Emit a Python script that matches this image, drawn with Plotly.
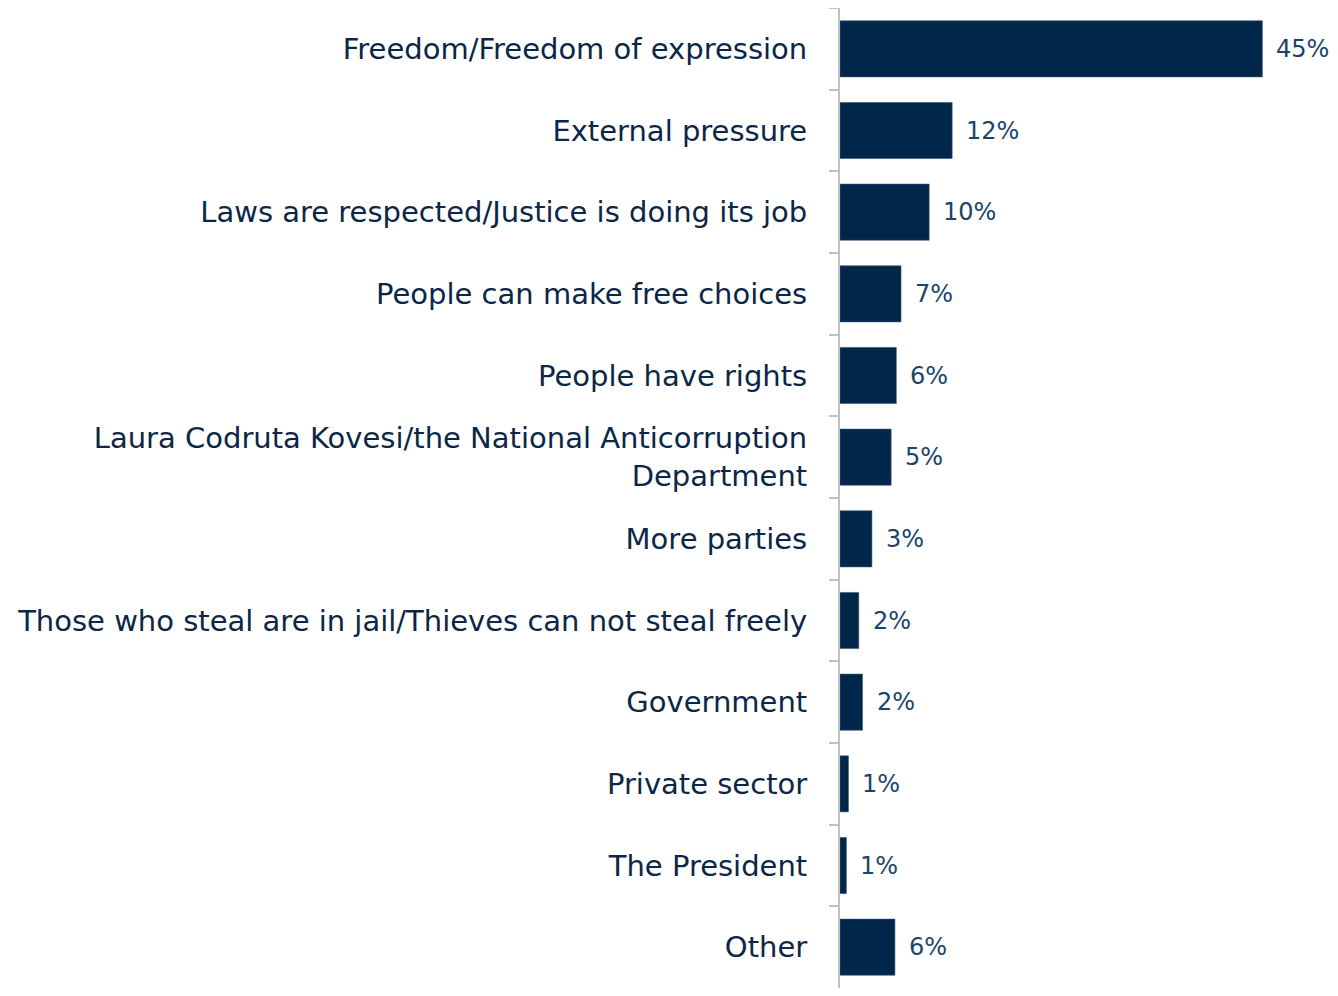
import plotly.graph_objects as go

categories = [
    "Freedom/Freedom of expression",
    "External pressure",
    "Laws are respected/Justice is doing its job",
    "People can make free choices",
    "People have rights",
    "Laura Codruta Kovesi/the National Anticorruption<br>Department",
    "More parties",
    "Those who steal are in jail/Thieves can not steal freely",
    "Government",
    "Private sector",
    "The President",
    "Other",
]
values = [45.0, 11.95, 9.5, 6.5, 6.0, 5.45, 3.4, 2.0, 2.4, 0.9, 0.68, 5.85]
labels = ["45%", "12%", "10%", "7%", "6%", "5%", "3%", "2%", "2%", "1%", "1%", "6%"]

BAR = "#00264a"
FONT = "DejaVu Sans"

fig = go.Figure(
    go.Bar(
        x=values,
        y=categories,
        orientation="h",
        marker=dict(color=BAR, line=dict(color="#3a5878", width=0.6)),
        hoverinfo="skip",
    )
)

for v, c, t in zip(values, categories, labels):
    fig.add_annotation(
        x=v, y=c, text=t, showarrow=False, xanchor="left", yanchor="middle",
        xshift=12, font=dict(family=FONT, size=24, color="#1b4468"),
    )

fig.update_layout(
    width=1322, height=980,
    margin=dict(l=832, r=16, t=0, b=0),
    paper_bgcolor="white", plot_bgcolor="white",
    bargap=0.313,
    showlegend=False,
    font=dict(family=FONT, size=29, color="#0b2646"),
)
fig.update_xaxes(range=[0, 50.5], visible=False)
fig.update_yaxes(
    autorange="reversed",
    showline=True, linecolor="#c0c0c0", linewidth=2,
    ticks="outside", tickson="boundaries", ticklen=9, tickcolor="#c0c0c0", tickwidth=2,
    ticklabelstandoff=25,
    showgrid=False,
    tickfont=dict(family=FONT, size=29, color="#0b2646"),
)

fig.write_html("out.html")
